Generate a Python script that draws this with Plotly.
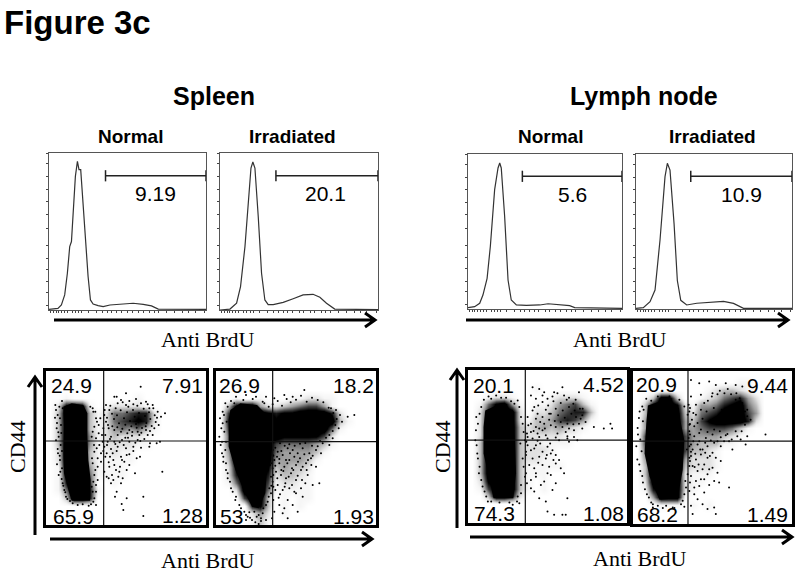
import plotly.graph_objects as go

W, H = 800, 574

# ---------- histogram data (percent of axis) ----------
H1_X = [0,5.7,7.9,10,11.7,13.2,14.3,15.3,16.8,18.1,19.1,20.2,21.7,23.2,24.9,26.4,28.1,31.3,34.5,38.8,47.2,53.6,60,65.3,69.6,100]
H1_Y = [0.4,1,3.2,9.6,23.4,40.4,43.6,59.6,85.1,94.7,89.4,89.4,66,44.7,21.3,6.4,3.8,2.8,2.1,3.2,4,4.3,3.6,2.6,0.6,0.4]
H2_X = [0,6.3,10.5,13,15.8,17.9,19.6,20.8,22.1,24.2,26.3,28.4,30.5,33.7,40,46.3,52.6,58.9,63.2,67.4,72.6,100]
H2_Y = [0,0.6,4.3,14.9,40.4,70.2,90.4,94.3,90.4,59.6,23.4,6.4,3.4,3.4,4.9,7.2,9.6,10,8.1,4.3,0.6,0.2]
H3_X = [0,4.3,7.6,9.7,12.4,14.5,17.3,19.5,20.6,21.6,23.8,26,28.1,31.4,37.9,46.6,52,59.5,66,69.3,100]
H3_Y = [0.9,1.5,3.7,9,19.8,40.3,77,91,94.2,91,59.7,18.7,5.8,2.6,2.4,2.6,3.4,2.6,2.2,0.9,0.4]
H4_X = [0,4.7,9,12.2,15.4,18.6,20.1,21.8,24.4,26.5,28.7,32.5,39,47.5,56.1,62.5,68.9,100]
H4_Y = [0.4,0.9,4.7,12.2,44.5,85.4,94,89.6,55.1,18.4,5.6,2.6,3.7,4.5,4.9,3.6,0.4,0.4]
H_GATE_START = [36, 35.4, 35.3, 35.1]
H_GATE_END = [100, 100, 100, 100]
H_GATE_LEVEL = [85.5, 85.5, 85.6, 85.6]
H_GATE_VALUES = ["9.19", "20.1", "5.6", "10.9"]
H_YTICKS = [3, 11, 18, 26, 33, 41, 52, 61, 69, 77, 85, 93, 100]
H_XTICKS = [1, 3, 4.5, 6, 8, 10, 12, 15, 17, 19, 21, 25, 30, 34, 37, 40, 43, 46, 50, 53, 57, 60, 64, 67, 70, 75, 80, 85, 89, 93, 99]

# ---------- dot plot gates and quadrant values ----------
S_VGATE = [173, 170, 173, 166]
S_HGATE = [252, 250, 250, 250]
S_Q_LABELS = [["24.9", "7.91", "65.9", "1.28"], ["26.9", "18.2", "53", "1.93"],
              ["20.1", "4.52", "74.3", "1.08"], ["20.9", "9.44", "68.2", "1.49"]]

# ---------- event density of the dot plots, read by eye: 20 rows x 20 columns, top row first, 0-9 ----------
S1_DENSITY = ["00000000000000000000","00000000000000000000","00000000000000000000",
"00100000000100000000","02898101222210000000","03999312556772000000","03999312567872000000",
"03999312454531000000","03999412322210000000","03999412222110000000","02999311211000000000",
"02999311111000000000","01999411110000000000","01899511110000000000","01799600100000000000",
"01599710000000000000","00399700000000000000","00000000000000000000","00000000000000000000","00000000000000000000"]
S2_DENSITY = ["00000000000000000000","00000000000000000000","00000000000000000000",
"00100100011221100000","03899422345664100000","06999987889999720000","07999998999999931000",
"06999999999999510000","05999999888886200000","05999996555543100000","04999995444431000000",
"03999994444310000000","02899983433200000000","02799972332100000000","01599961221100000000",
"00299951111100000000","00069930101100000000","00007830101000000000","00002420100000000000","00001310000000000000"]
S3_DENSITY = ["00000000000000000000","00000000000000000000","00000000100000000000",
"00122100001222100000","01589410112456310000","02799920223567730000","02899921334676410000",
"02999932343432100000","02999932222211000000","03999932211110000000","03999932221000000000",
"03999932211000000000","03999931111100000000","03999931110000000000","02899931010000000000",
"01699931010000000000","00399720000000000000","00000000000000000000","00000000000000000000","00000000000000000000"]
S4_DENSITY = ["00000000000000000000","00000000000001100000","00000000012332100000",
"01399300123567420000","03899821445789530000","03999932567999640000","04999943689999720000",
"04999944566653100000","06999964444321000000","06999964333110000000","05999963321000000000",
"04999942221000000000","03999932221000000000","03999921110000000000","02999921100000000000",
"01799921000000000000","00499910000000000000","00011101010000000000","00000000000000000000","00000000000000000000"]

# ---------- saturated cell masses (outlines, channel units) ----------
S1_CORE = [(52,355),(77,365),(112,360),(124,335),(124,265),(127,195),(134,135),(132,73),(77,73),(67,105),(54,155),(52,215),(54,295),(52,335)]
S2_CORE = [(43,345),(73,365),(123,360),(153,330),(163,245),(153,175),(148,95),(128,50),(108,55),(83,105),(58,165),(38,235),(38,315)]
S3_CORE = [(52,340),(97,360),(132,340),(142,240),(145,150),(137,75),(77,75),(62,140),(47,210),(47,290)]
S4_CORE = [(45,358),(90,373),(135,353),(155,253),(150,163),(135,78),(80,73),(50,143),(35,213),(40,303)]

# ---------- individually visible dots (channel units) ----------
S1_DOTS = [(284,415),(240,395),(212,385),(357,335),(349,160),(212,100),(207,85),(227,63),(242,80),(292,85),(232,45),(292,27),
(182,215),(202,195),(222,175),(242,165),(267,155),(182,145),(217,145),(202,135),(282,205),(312,245),(332,245),(342,250),
(205,385),(225,375),(250,372),(270,378),(300,370),(320,360),(335,340),(345,325),(180,360),(190,345),(215,365),(240,360),(262,362),(285,365),(310,350),
(175,330),(180,310),(188,290),(205,285),(225,280),(250,285),(275,280),(300,285),(325,290),(338,300),(172,290),(178,270),(195,265),(215,270),(238,262),(258,268),(280,270),(305,270),(320,270),
(185,250),(205,250),(228,255),(250,250),(275,255),(295,258),(175,235),(195,228),(215,235),(240,230),(262,235),(285,232),(310,235),(178,205),(200,215),(225,205),(250,212),(272,200),
(165,190),(190,175),(210,165),(235,190),(250,180),(175,160),(195,125),(225,125),
(30,345),(35,330),(40,355),(45,300),(32,290),(38,265),(44,240),(36,215),(42,195),(48,170),(38,150),(50,125),(55,105),(60,85),
(142,340),(150,320),(158,300),(140,280),(150,260),(160,240),(145,220),(138,200),(155,175),(145,150),(150,120),(140,100),(145,80),(135,62),(150,60),(165,215),(170,250),
(176,345),(183,322),(193,358),(198,334),(204,318),(209,350),(213,329),(219,305),(224,344),(230,368),(234,320),(238,301),(243,338),(247,355),(252,312),(256,296),(261,345),(266,325),(270,303),(274,358),(279,336),(283,315),(288,291),(293,349),(297,327),(301,306),(305,362),(309,338),(313,318),(317,297),(322,350),(326,329),(329,309),(333,322),(186,300),(199,296),(214,293),(229,289),(244,275),(259,279),(272,292),(286,277),(299,296),(312,282),
(183,240),(192,258),(208,243),(221,248),(233,240),(246,262),(268,247),(283,252),(192,205),(212,222),(228,195),(242,210),(262,222),(172,222),(188,188),(205,180),(220,160),(198,150),(230,140),(188,140),
(27,322),(33,306),(37,278),(30,254),(35,228),(41,208),(33,182),(43,160),(47,138),(52,118),(58,98),(64,78),(28,360),(48,372),(42,320),(46,276),(50,350),(48,222),(133,355),(140,350),(148,340),(153,310),(145,295),(137,265),(144,240),(152,230),(140,185),(148,165),(142,130),(155,135),(137,115),(150,100),(142,70),(128,58),(110,62),(95,60),(80,65),(72,72),(158,275),(163,320),(168,270),(155,200)]

S2_DOTS = [(265,405),(205,390),(230,385),(175,380),(150,385),(120,385),(90,390),(60,385),(345,350),(360,345),(372,330),(378,310),(368,290),(415,330),(395,325),
(350,260),(340,240),(320,245),(300,225),(315,215),(285,200),(270,185),(300,175),(255,165),(275,150),(310,125),(290,120),(255,110),(235,100),(260,85),(215,75),(230,60),(245,40),(190,60),(175,40),(200,35),(215,20),(168,20),(150,15),(135,12),(95,25),(85,40),(70,60),(60,85),(45,110),(35,140),
(30,165),(22,190),(18,215),(14,240),(10,265),(16,290),(12,320),(20,340),(28,365),(45,372),
(170,225),(185,220),(200,210),(215,230),(230,225),(245,215),(260,230),(280,215),(175,195),(190,185),(205,175),(220,195),(240,180),(180,160),(195,150),(210,140),(225,155),(240,135),(170,130),(185,120),(200,105),(220,110),
(170,170),(165,145),(160,110),(158,85),(150,60),(140,35),(122,25),(115,40),(135,20),(108,15),(100,38),(118,8),(128,3),
(158,355),(170,362),(185,372),(198,358),(212,378),(224,368),(240,376),(255,388),(272,370),(288,382),(305,375),(322,368),(338,352),(352,336),(362,318),(358,300),(350,282),(340,270),(330,262),(312,252),
(166,240),(178,232),(192,245),(206,238),(220,242),(236,238),(252,244),(268,246),(288,238),(305,236),(172,208),(183,205),(196,222),(210,195),(222,215),(235,205),(252,200),(265,212),(276,195),(290,208),(168,185),(178,178),(190,198),(202,162),(214,185),(228,170),(246,190),(260,175),(272,165),(286,180),(172,150),(184,140),(196,165),(208,125),(218,145),(232,165),(245,148),(258,135),(268,125),(166,118),(178,105),(192,92),(206,115),(228,120),(240,95),(172,75),(188,82),(205,50),
(20,305),(25,280),(18,250),(28,225),(22,205),(30,185),(35,155),(42,130),(50,100),(58,75),(75,50),(90,30),(24,330),(35,355),(55,365),(30,250),(32,310),(90,15),(102,22),(128,30),(142,50),(155,70),(165,95),(172,115),(162,180),(170,210),(140,370),(110,378),(82,375),(145,365)]

S3_DOTS = [(195,410),(215,405),(230,395),(260,395),(285,410),(190,385),(205,375),(225,385),(335,395),(345,325),(335,300),(355,305),(345,285),(320,260),(300,255),(380,290),(410,285),(430,300),(435,285),
(180,320),(195,340),(210,330),(225,320),(245,330),(190,300),(205,290),(225,280),(190,275),(210,270),(235,265),(270,270),(295,275),(320,280),(180,260),(195,255),(215,260),(240,255),(265,258),(300,262),
(180,235),(190,220),(205,235),(225,215),(240,230),(255,220),(175,205),(195,195),(215,200),(235,195),(250,210),(265,205),(185,175),(200,165),(225,175),(245,170),(265,180),(280,165),(290,150),(275,190),
(175,150),(190,130),(205,140),(230,125),(250,145),(265,120),(255,100),(215,75),(235,65),(260,25),(285,25),(295,25),(240,35),(300,75),
(30,300),(22,250),(28,210),(35,170),(40,130),(50,95),(60,65),(150,370),(165,300),(172,250),(175,215),(168,170),(160,115),(150,80),(155,60),(135,55),(40,350),(70,375),(100,378),(130,368),
(235,342),(242,355),(250,330),(258,368),(265,345),(272,325),(280,362),(286,340),(292,318),(298,372),(305,350),(312,330),(318,360),(322,340),(326,320),(300,300),(280,305),(262,308),(245,312),(230,300),(218,305),(205,315),(200,350),(212,355),(225,365),(240,375),(255,382),(270,392),(290,385),(305,378),(325,372),(338,345),(346,345),(340,315),(318,298),(305,285),(285,290),(265,290),(250,295),(232,285),(215,285),(198,278),(182,295),(178,270),(176,245),(210,248),(200,225),(218,240),(248,240),(275,250),(305,245),(330,250),(212,182),(238,205),(258,190),(205,150),(220,115),(240,150),(178,120),(190,105),(200,95),
(24,280),(26,235),(30,195),(33,150),(44,110),(55,80),(35,330),(25,320),(48,372),(62,382),(85,385),(115,378),(140,360),(155,350),(160,320),(168,275),(158,240),(165,195),(172,140),(160,90),(148,65),(125,62),(95,62),(70,65)]

S4_DOTS = [(175,435),(200,425),(230,430),(250,420),(280,425),(310,420),(330,415),(310,375),(345,345),(355,315),(345,265),(400,270),(325,255),(290,250),(340,240),(300,225),
(175,385),(190,360),(205,390),(240,395),(170,340),(178,315),(170,280),(185,265),(200,275),(220,260),(240,270),(265,262),(285,272),(310,280),
(170,235),(180,225),(195,240),(210,225),(225,235),(245,245),(265,235),(175,205),(190,195),(205,210),(225,200),(240,215),(180,175),(195,160),(215,180),(230,165),(245,130),(260,125),(175,145),(190,130),(205,135),(185,110),(170,100),(215,95),(195,75),(175,55),(210,60),(225,45),(245,50),(180,30),(250,30),(290,110),
(20,340),(28,355),(30,310),(15,270),(10,235),(13,195),(22,160),(30,125),(42,90),(55,65),(168,360),(172,270),(175,240),(170,200),(165,150),(160,110),(150,70),(155,52),(120,50),(100,55),(75,55),
(172,350),(182,335),(190,330),(195,305),(205,345),(210,318),(215,365),(222,340),(226,372),(232,310),(238,385),(244,350),(250,320),(255,392),(262,402),(268,345),(276,395),(286,408),(296,392),(312,395),(322,380),(330,365),(338,340),(345,325),(338,300),(328,280),(315,265),(298,255),(280,268),(262,280),(245,285),(225,278),(205,285),(185,295),(172,302),(168,260),(182,250),(200,250),(218,245),(235,252),(255,250),(275,250),(175,218),(188,212),(203,225),(218,215),(232,205),(250,200),(265,190),(172,190),(186,172),(198,180),(210,165),(225,150),(240,170),(255,155),(172,125),(185,90),(200,115),(215,135),(230,118),
(14,290),(18,320),(22,255),(26,220),(19,180),(28,145),(36,105),(48,80),(60,60),(32,345),(40,378),(55,372),(75,385),(110,385),(140,375),(155,355),(165,330),(170,300),(163,225),(170,175),(158,130),(155,90),(145,60),(125,48),(90,48),(60,50)]

# ---------- pixel layout ----------
HIST_BOX = [(49,206,153,310),(220,378,153,310),(468,622,154,309),(636,792,154,309)]
SCAT_BOX = [(46,206,371,525),(216,376,371,525),(468,627,370,523),(633,792,371,524)]
H_VALUE_POS = [(155,193),(325,193),(572,194),(741,194)]
S_LABEL_POS = [[(71,385),(182,385),(73,516),(182,515)],[(239,385),(353,385),(231,516),(353,516)],
               [(493,385),(603,384),(494,513),(603,513)],[(656,384),(767,385),(657,514),(767,514)]]

def px(x): return x / W
def py(y): return 1 - y / H

fig = go.Figure()
layout_axes = {}
ax = 0

def new_axes(box, xr, yr, **kw):
    global ax
    ax += 1
    l, r, t, b = box
    layout_axes[f"xaxis{ax}"] = dict(domain=[px(l), px(r)], range=xr, anchor=f"y{ax}", showgrid=False,
        zeroline=False, showticklabels=False, showline=True, mirror=True, fixedrange=True, **kw)
    layout_axes[f"yaxis{ax}"] = dict(domain=[py(b), py(t)], range=yr, anchor=f"x{ax}", showgrid=False,
        zeroline=False, showticklabels=False, showline=True, mirror=True, fixedrange=True, **kw)
    return f"x{ax}", f"y{ax}"

for box, xs, ys, g0, g1, lv in zip(HIST_BOX, [H1_X,H2_X,H3_X,H4_X], [H1_Y,H2_Y,H3_Y,H4_Y], H_GATE_START, H_GATE_END, H_GATE_LEVEL):
    xa, ya = new_axes(box, [0,100], [0,100], linecolor="#555", linewidth=1, ticks="outside", ticklen=2, tickwidth=1, tickcolor="#444")
    k = xa[1:]
    layout_axes[f"xaxis{k}"]["tickvals"] = H_XTICKS
    layout_axes[f"yaxis{k}"]["tickvals"] = H_YTICKS
    fig.add_trace(go.Scatter(x=xs, y=ys, xaxis=xa, yaxis=ya, mode="lines", line=dict(color="#333", width=1.2), hoverinfo="skip"))
    fig.add_trace(go.Scatter(x=[g0,g1], y=[lv,lv], xaxis=xa, yaxis=ya, mode="lines+markers", cliponaxis=False,
        line=dict(color="#222", width=1.5), marker=dict(symbol="line-ns", size=8, line=dict(color="#222", width=1.5)), hoverinfo="skip"))

CELL_X = [12 + 24 * c for c in range(20)]
CELL_Y = [450.5 - 23.1 * r for r in range(20)]
DENSITY_SCALE = [[0,"#ffffff"],[0.11,"#f6f6f6"],[0.22,"#e2e2e2"],[0.44,"#a0a0a0"],[0.67,"#404040"],[0.85,"#000000"],[1,"#000000"]]

for i, (box, grid, core, dots) in enumerate(zip(SCAT_BOX, [S1_DENSITY,S2_DENSITY,S3_DENSITY,S4_DENSITY],
                                                [S1_CORE,S2_CORE,S3_CORE,S4_CORE], [S1_DOTS,S2_DOTS,S3_DOTS,S4_DOTS])):
    xa, ya = new_axes(box, [0,480], [0,462], linecolor="#000", linewidth=3)
    z = [[int(ch) for ch in row] for row in grid]
    fig.add_trace(go.Heatmap(x=CELL_X, y=CELL_Y, z=z, xaxis=xa, yaxis=ya, zmin=0, zmax=9, zsmooth="best",
        colorscale=DENSITY_SCALE, showscale=False, hoverinfo="skip"))
    fig.add_trace(go.Scatter(x=[p[0] for p in core], y=[p[1] for p in core], xaxis=xa, yaxis=ya, mode="lines", fill="toself",
        fillcolor="#000", line=dict(width=0), hoverinfo="skip"))
    fig.add_trace(go.Scatter(x=[p[0] for p in dots], y=[p[1] for p in dots], xaxis=xa, yaxis=ya, mode="markers",
        marker=dict(color="#000", size=2, line=dict(width=0)), hoverinfo="skip"))
    fig.add_trace(go.Scatter(x=[S_VGATE[i],S_VGATE[i]], y=[0,462], xaxis=xa, yaxis=ya, mode="lines", line=dict(color="#111", width=1.2), hoverinfo="skip"))
    fig.add_trace(go.Scatter(x=[0,480], y=[S_HGATE[i],S_HGATE[i]], xaxis=xa, yaxis=ya, mode="lines", line=dict(color="#111", width=1.2), hoverinfo="skip"))

ann = []
def text(t, x, y, size, fam="Liberation Sans", bold=False, angle=0, xanchor="center"):
    ann.append(dict(text=f"<b>{t}</b>" if bold else t, x=px(x), y=py(y), xref="paper", yref="paper", showarrow=False,
        font=dict(family=fam, size=size, color="#000"), xanchor=xanchor, yanchor="middle", textangle=angle, borderpad=0))

text("Figure 3c", 3, 22, 33, bold=True, xanchor="left")
text("Spleen", 214, 96, 25, bold=True)
text("Lymph node", 644, 96, 25, bold=True)
for t, x in [("Normal",130),("Irradiated",292),("Normal",550),("Irradiated",712)]:
    text(t, x, 136, 19, bold=True)
for t, (x, y) in zip(H_GATE_VALUES, H_VALUE_POS):
    text(t, x, y, 21)
for labs, poss in zip(S_Q_LABELS, S_LABEL_POS):
    for t, (x, y) in zip(labs, poss):
        text(t, x, y, 21)
SERIF = "Liberation Serif"
for x, y in [(208,339),(620,339),(208,560),(640,558)]:
    text("Anti BrdU", x, y, 22, fam=SERIF)
for x, y in [(17,447),(442,447)]:
    text("CD44", x, y, 22, fam=SERIF, angle=-90)

shapes = []
def arrow_h(x0, x1, y):
    shapes.append(dict(type="path", xref="paper", yref="paper",
        path=f"M {px(x0)} {py(y)} L {px(x1)} {py(y)} M {px(x1-10)} {py(y-7)} L {px(x1)} {py(y)} L {px(x1-10)} {py(y+7)}",
        line=dict(color="#000", width=3)))
def arrow_v(x, y0, y1):
    shapes.append(dict(type="path", xref="paper", yref="paper",
        path=f"M {px(x)} {py(y0)} L {px(x)} {py(y1)} M {px(x-7)} {py(y1+10)} L {px(x)} {py(y1)} L {px(x+7)} {py(y1+10)}",
        line=dict(color="#000", width=3)))
arrow_h(54,375,320); arrow_h(466,788,320); arrow_h(50,372,539); arrow_h(470,792,537)
arrow_v(35,535,377); arrow_v(457,528,370)

fig.update_layout(width=W, height=H, margin=dict(l=0,r=0,t=0,b=0), showlegend=False, paper_bgcolor="white", plot_bgcolor="white",
    annotations=ann, shapes=shapes, **layout_axes)
fig.write_html("out.html", config={"displayModeBar": False}, post_script="document.body.style.margin='0';document.body.style.overflow='hidden';")
